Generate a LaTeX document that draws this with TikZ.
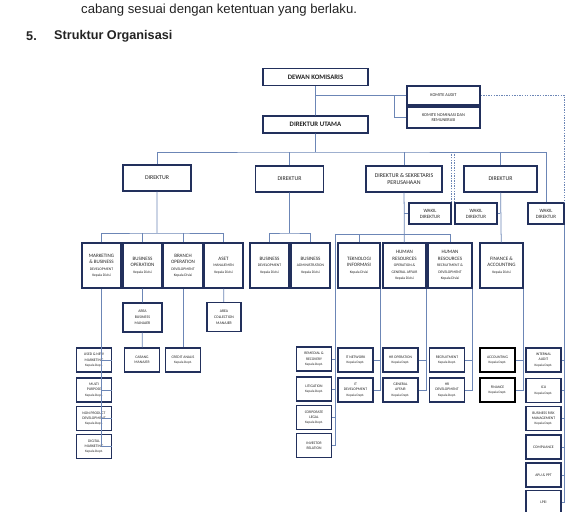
\documentclass[tikz,border=0pt]{standalone}
\usepackage{fontspec}
\setmainfont{Liberation Sans}
\newfontfamily\boxfont{Carlito}
\definecolor{boxline}{RGB}{34,48,92}
\definecolor{connline}{RGB}{108,134,182}
\definecolor{txt}{RGB}{35,35,35}
\newcommand{\kd}{{\fontsize{3.1}{3.8}\selectfont Kepala Divisi}}
\newcommand{\kdp}{{\fontsize{2.9}{3.6}\selectfont Kepala Dept.}}
\newcommand{\sml}[1]{{\fontsize{3.2}{3.9}\selectfont #1}}
\begin{document}
\begin{tikzpicture}[scale=0.03]
    \tikzstyle{every node}+=[inner sep=0pt, text=txt]
    \tikzstyle{unit}=[draw=boxline, line width=1.2pt, fill=white, align=center, font=\boxfont\fontsize{4.3}{5.6}\selectfont]
    \tikzstyle{topsz}=[minimum width=31.5mm, minimum height=5mm, font=\boxfont\bfseries\fontsize{5.8}{6.8}\selectfont]
    \tikzstyle{komsz}=[minimum width=21.9mm, minimum height=5.7mm, font=\boxfont\fontsize{3.7}{4.6}\selectfont]
    \tikzstyle{dirsz}=[minimum width=20.4mm, minimum height=7.8mm, font=\boxfont\fontsize{5}{6.2}\selectfont]
    \tikzstyle{waksz}=[minimum width=12.6mm, minimum height=6.3mm, font=\boxfont\fontsize{4.2}{5.2}\selectfont]
    \tikzstyle{divsz}=[minimum width=11.7mm, minimum height=13.5mm]
    \tikzstyle{mgrsz}=[minimum width=11.7mm, minimum height=8.7mm, font=\boxfont\fontsize{3.3}{5}\selectfont]
    \tikzstyle{deptsz}=[minimum width=10.5mm, minimum height=7.2mm, font=\boxfont\fontsize{3.2}{4.6}\selectfont]
    \tikzstyle{conn}=[draw=connline, line width=0.65pt]
    \tikzstyle{dotconn}=[draw=connline, line width=0.65pt, dash pattern=on 1.2pt off 1pt]

    \fill [white] (0,0) rectangle (566,-512);
    \useasboundingbox (0,0) rectangle (566,-512);

    % heading
    \node [anchor=west, font=\fontsize{11.2}{13}\selectfont] (txtline) at (81,-10) {cabang sesuai dengan ketentuan yang berlaku.};
    \node [anchor=west, font=\bfseries\fontsize{10.8}{12}\selectfont] (secno) at (26,-36) {5.};
    \node [anchor=west, font=\bfseries\fontsize{10.8}{12}\selectfont] (sectitle) at (54,-36) {Struktur Organisasi};

    % board and president director
    \node [unit, topsz] (dk) at (315.5,-77) {DEWAN KOMISARIS};
    \node [unit, topsz] (du) at (315.5,-124.5) {DIREKTUR UTAMA};
    \node [unit, komsz] (ka) at (443.5,-95.5) {KOMITE AUDIT};
    \node [unit, komsz, minimum height=6.3mm] (kn) at (443.5,-117.5) {KOMITE NOMINASI DAN\\REMUNERASI};

    % directors
    \node [unit, dirsz] (d1) at (157,-178) {DIREKTUR};
    \node [unit, dirsz] (d2) at (289.5,-179) {DIREKTUR};
    \node [unit, dirsz, minimum width=22.8mm] (d3) at (404,-179) {DIREKTUR \& SEKRETARIS\\PERUSAHAAN};
    \node [unit, dirsz, minimum width=21.9mm] (d4) at (500.5,-179) {DIREKTUR};
    \node [unit, waksz] (w1) at (430,-213.5) {WAKIL\\DIREKTUR};
    \node [unit, waksz] (w2) at (476,-213.5) {WAKIL\\DIREKTUR};
    \node [unit, waksz, minimum width=10.8mm] (w3) at (546,-213.5) {WAKIL\\DIREKTUR};

    % divisions
    \node [unit, divsz] (mkt) at (101.5,-265.5) {MARKETING\\\& BUSINESS\\\sml{DEVELOPMENT}\\\kd};
    \node [unit, divsz] (bo) at (142.5,-265.5) {BUSINESS\\OPERATION\\\kd};
    \node [unit, divsz] (br) at (183,-265.5) {BRANCH\\OPERATION\\\sml{DEVELOPMENT}\\\kd};
    \node [unit, divsz] (aset) at (223.5,-265.5) {ASET\\\sml{MANAJEMEN}\\\kd};
    \node [unit, divsz] (bd) at (269.5,-265.5) {BUSINESS\\\sml{DEVELOPMENT}\\\kd};
    \node [unit, divsz] (ba) at (310.5,-265.5) {BUSINESS\\\sml{ADMINISTRATION}\\\kd};
    \node [unit, divsz, minimum width=12.6mm] (ti) at (359,-265.5) {TEKNOLOGI\\INFORMASI\\\kd};
    \node [unit, divsz, minimum width=12.9mm] (hro) at (404.5,-265.5) {HUMAN\\RESOURCES\\\sml{OPERATION \&}\\\sml{GENERAL AFFAIR}\\\kd};
    \node [unit, divsz, minimum width=13.2mm] (hrr) at (450,-265.5) {HUMAN\\RESOURCES\\\sml{RECRUITMENT \&}\\\sml{DEVELOPMENT}\\\kd};
    \node [unit, divsz, minimum width=12.9mm] (fa) at (501.5,-265.5) {FINANCE \&\\ACCOUNTING\\\kd};

    % managers
    \node [unit, mgrsz] (abm) at (142.5,-317.5) {AREA\\BUSINESS\\MANAJER};
    \node [unit, mgrsz, minimum width=10.2mm] (acm) at (224,-317) {AREA\\COLLECTION\\MANAJER};

    % departments
    \node [unit, deptsz] (unm) at (94,-360) {USED \& NEW\\MARKETING\\\kdp};
    \node [unit, deptsz] (mp) at (94,-390) {MULTI\\PURPOSE\\\kdp};
    \node [unit, deptsz] (npd) at (94,-418.5) {NON PRODUCT\\DEVELOPMENT\\\kdp};
    \node [unit, deptsz] (dm) at (94,-446.5) {DIGITAL\\MARKETING\\\kdp};
    \node [unit, deptsz] (cab) at (142,-360) {CABANG\\MANAJER};
    \node [unit, deptsz] (ca) at (183,-360) {CREDIT ANALIS\\\kdp};
    \node [unit, deptsz] (rr) at (314,-359) {REMEDIAL \&\\RECOVERY\\\kdp};
    \node [unit, deptsz] (lit) at (314,-389) {LITIGATION\\\kdp};
    \node [unit, deptsz] (cl) at (314,-417.5) {CORPORATE\\LEGAL\\\kdp};
    \node [unit, deptsz] (ir) at (314,-445.5) {INVESTOR\\RELATION};
    \node [unit, deptsz] (itn) at (355.5,-360) {IT NETWORK\\\kdp};
    \node [unit, deptsz] (itd) at (355.5,-390) {IT\\DEVELOPMENT\\\kdp};
    \node [unit, deptsz] (hrop) at (400.5,-360) {HR OPERATION\\\kdp};
    \node [unit, deptsz] (ga) at (400.5,-390) {GENERAL\\AFFAIR\\\kdp};
    \node [unit, deptsz] (rec) at (447,-360) {RECRUITMENT\\\kdp};
    \node [unit, deptsz] (hrd) at (447,-390) {HR\\DEVELOPMENT\\\kdp};
    \node [unit, deptsz, draw=black] (acc) at (497.5,-360) {ACCOUNTING\\\kdp};
    \node [unit, deptsz, draw=black] (fin) at (497.5,-390) {FINANCE\\\kdp};
    \node [unit, deptsz] (ia) at (543.5,-360) {INTERNAL\\AUDIT\\\kdp};
    \node [unit, deptsz] (icu) at (543.5,-390.5) {ICU\\\kdp};
    \node [unit, deptsz] (brm) at (543.5,-418.5) {BUSINESS RISK\\MANAGEMENT\\\kdp};
    \node [unit, deptsz] (comp) at (543.5,-447) {COMPLIANCE};
    \node [unit, deptsz] (apu) at (543.5,-475) {APU \& PPT};
    \node [unit, deptsz] (lpei) at (543.5,-502.5) {LPEI};

    % junctions
    \coordinate (jk) at (315.5,-95.5);
    \coordinate (kbar) at (394,-95.5);
    \coordinate (jd) at (315.5,-152);
    \coordinate (b1) at (157,-233);
    \coordinate (b2) at (289.5,-233);
    \coordinate (lbar) at (335,-234);
    \coordinate (mbar) at ([xshift=3.75mm]mkt.south);
    \coordinate (tbar) at ([xshift=-0.9mm]ti.south east);
    \coordinate (hbar) at ([xshift=-1.2mm]hro.south east);
    \coordinate (rbar) at ([xshift=-1.2mm]hrr.south east);
    \coordinate (fbar) at ([xshift=-1.5mm]fa.south east);

    % top connectors
    \draw [conn] (dk) -- (du);
    \draw [conn] (jk) -- (ka.west);
    \draw [conn] (kbar) |- (kn.west);
    \draw [dotconn] (ka.east) -| (w3.north east);
    \draw [conn] (du) -- (jd);
    \draw [conn] (d1.north) |- (jd) -| (w3.north);
    \draw [conn] (d2.north) -- (d2.north |- jd);
    \draw [conn] (d3.north) -- (d3.north |- jd);
    \draw [conn] (d4.north) -- (d4.north |- jd);
    \draw [dotconn] ([xshift=-1.5mm]w1.north east) -- ([xshift=-1.5mm]w1.north east |- jd);
    \draw [dotconn] ([xshift=0.9mm]w2.north west) -- ([xshift=0.9mm]w2.north west |- jd);
    \draw [conn] (w1.west) -- (w1.west -| d3.south);
    \draw [conn] (w2.east) -- (w2.east -| d4.south);

    % director 1
    \draw [conn] (d1) -- (b1);
    \draw [conn] (mkt.north) |- (b1) -| (aset.north);
    \draw [conn] (bo.north) -- (bo.north |- b1);
    \draw [conn] (br.north) -- (br.north |- b1);
    \draw [conn] (bo) -- (abm);
    \draw [conn] (abm) -- (cab);
    \draw [conn] (br.south) -- (ca.north);
    \draw [conn] (aset) -- (acm);
    \draw [conn] (mbar) |- (dm.east);
    \foreach \n in {unm,mp,npd}
        \draw [conn] (\n.east) -- (\n.east -| mbar);

    % director 2
    \draw [conn] (d2) -- (b2);
    \draw [conn] (bd.north) |- (b2) -| (ba.north);

    % director & corporate secretary
    \draw [conn] (d3) -- (hro);
    \draw [conn] (lbar) -| (hrr.north);
    \draw [conn] (ti.north) -- (ti.north |- lbar);
    \draw [conn] (lbar) |- (ir.east);
    \foreach \n in {rr,lit,cl}
        \draw [conn] (\n.east) -- (\n.east -| lbar);
    \draw [conn] (tbar) |- (itd.east);
    \draw [conn] (itn.east) -- (itn.east -| tbar);
    \draw [conn] (hbar) |- (ga.east);
    \draw [conn] (hrop.east) -- (hrop.east -| hbar);
    \draw [conn] (rbar) |- (hrd.east);
    \draw [conn] (rec.east) -- (rec.east -| rbar);

    % director 4
    \draw [conn] (d4) -- (fa);
    \draw [conn] (fbar) |- (fin.east);
    \draw [conn] (acc.east) -- (acc.east -| fbar);

    % right column
    \draw [conn] (w3.south east) |- (lpei.east);
    \foreach \n in {ia,icu,brm,comp,apu}
        \draw [conn] (\n.east) -- (\n.east -| w3.south east);
\end{tikzpicture}
\end{document}
